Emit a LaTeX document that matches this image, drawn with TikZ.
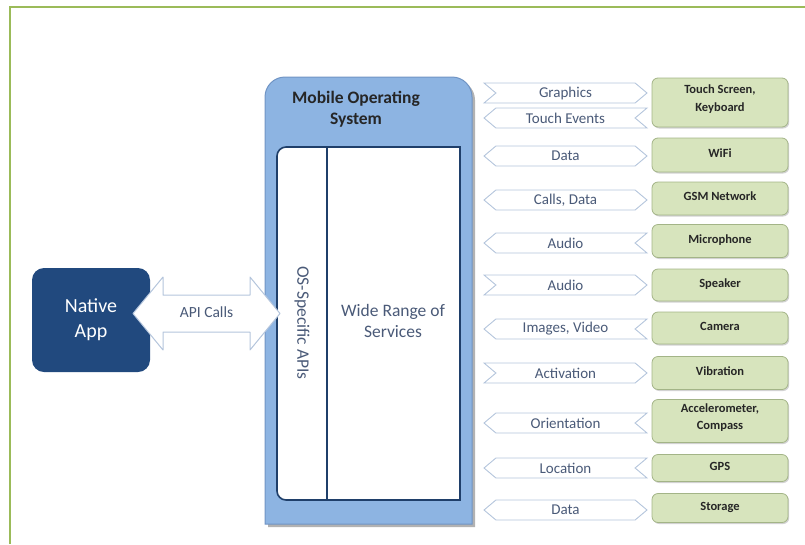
\documentclass[tikz,border=0pt]{standalone}
\usepackage{fontspec}
\setmainfont{Carlito}
\usetikzlibrary{shapes.symbols,shadows}

\definecolor{framegreen}{HTML}{9BBB59}
\definecolor{osfill}{HTML}{8DB4E2}
\definecolor{osline}{HTML}{7094C4}
\definecolor{innerline}{HTML}{1F3F6A}
\definecolor{appblue}{HTML}{21497E}
\definecolor{arrowline}{HTML}{B4C5DC}
\definecolor{labeltext}{HTML}{4A5A78}
\definecolor{devfill}{HTML}{D7E4BD}
\definecolor{devline}{HTML}{A3B487}

\tikzset{
  flowlabel/.style={signal, draw=arrowline, fill=white, line width=0.9pt,
    text=labeltext, font=\fontsize{15}{17}\selectfont,
    minimum width=163pt, minimum height=20pt, inner sep=1pt,
    signal pointer angle=80},
  toright/.style={flowlabel, signal to=east, signal from=west},
  toleft/.style={flowlabel, signal to=west, signal from=east},
  twoway/.style={flowlabel, signal to=west and east},
  devbase/.style={draw=devline, fill=devfill, rounded corners=6pt,
    line width=0.8pt, minimum width=136pt,
    font=\bfseries\fontsize{12.5}{17.5}\selectfont, text=black!85,
    drop shadow={shadow xshift=1.2pt, shadow yshift=-1.5pt, fill=black!35}},
  device/.style={devbase, text height=9pt, text depth=5pt},
  devicetwo/.style={devbase, align=center, text depth=9pt},
}

\begin{document}
\begin{tikzpicture}[x=1pt,y=-1pt]
  \useasboundingbox (0,0) rectangle (805,544);
  % frame
  \draw[framegreen, line width=2.8pt] (10,544) -- (10,7) -- (805,7);

  % operating system container
  \fill[black!30] (268,527) -- (268,300) [rounded corners=20pt] -- (268,80)
    -- (475,80) -- (475,300) [sharp corners] -- (475,527) -- cycle;
  \draw[osline, fill=osfill, line width=1pt] (265,524) -- (265,300)
    [rounded corners=20pt] -- (265,77) -- (472,77) -- (472,300)
    [sharp corners] -- (472,524) -- cycle;
  \draw[innerline, fill=white, line width=1.6pt] (400,500)
    [rounded corners=9pt] -- (277,500) -- (277,147) -- (400,147)
    [sharp corners] -- (460,147) -- (460,500) -- cycle;
  \draw[innerline, line width=1.6pt] (327,147) -- (327,500);

  \node[align=center, font=\bfseries\fontsize{17.5}{21}\selectfont, text=black!85]
    (os) at (356,109) {Mobile Operating\\System};
  \node[rotate=-90, text=labeltext, font=\fontsize{17.5}{19}\selectfont]
    (apis) at (302,323) {OS-Specific APIs};
  \node[align=center, text=labeltext, font=\fontsize{17.5}{21}\selectfont]
    (services) at (393,321) {Wide Range of\\Services};

  % native app
  \node[fill=appblue, rounded corners=12pt, minimum width=118pt,
    minimum height=104pt, align=center, text=white,
    font=\fontsize{20}{25}\selectfont] (app) at (91,320) {Native\\App};

  % api calls, app <-> os
  \coordinate (apil) at (133,313.5);
  \coordinate (apir) at (280,313.5);
  \draw[arrowline, fill=white, line width=1pt, line join=round] (apil)
    -- ++(30,-36.5) -- ++(0,18) -- ++(87,0) -- ++(0,-18) -- (apir)
    -- ++(-30,36.5) -- ++(0,-18) -- ++(-87,0) -- ++(0,18) -- cycle;
  \node[text=labeltext, font=\fontsize{15.5}{17}\selectfont]
    (api) at (206.5,312) {API Calls};

  % data flows
  \node[toright] (graphics) at (565.5,93) {Graphics};
  \node[toleft] (touch) at (565.5,118) {Touch Events};
  \node[twoway] (wifidata) at (565.5,156) {Data};
  \node[twoway] (calls) at (565.5,200) {Calls, Data};
  \node[toleft] (micaudio) at (565.5,243) {Audio};
  \node[toright] (spkaudio) at (565.5,285) {Audio};
  \node[toleft] (images) at (565.5,329) {Images, Video};
  \node[toright] (activation) at (565.5,373) {Activation};
  \node[toleft] (orientation) at (565.5,423) {Orientation};
  \node[toleft] (location) at (565.5,468) {Location};
  \node[twoway] (storedata) at (565.5,510) {Data};

  % devices
  \node[devicetwo, minimum height=49pt] (screen) at (720,102.5) {Touch Screen,\\Keyboard};
  \node[device, minimum height=34pt] (wifi) at (720,155) {WiFi};
  \node[device, minimum height=33pt] (gsm) at (720,198.5) {GSM Network};
  \node[device, minimum height=33pt] (mic) at (720,241) {Microphone};
  \node[device, minimum height=32pt] (speaker) at (720,285) {Speaker};
  \node[device, minimum height=32pt] (camera) at (720,328) {Camera};
  \node[device, minimum height=33pt] (vibra) at (720,373) {Vibration};
  \node[devicetwo, minimum height=43pt] (accel) at (720,421) {Accelerometer,\\Compass};
  \node[device, minimum height=27pt] (gps) at (720,468) {GPS};
  \node[device, minimum height=29pt] (storage) at (720,508) {Storage};
\end{tikzpicture}
\end{document}
